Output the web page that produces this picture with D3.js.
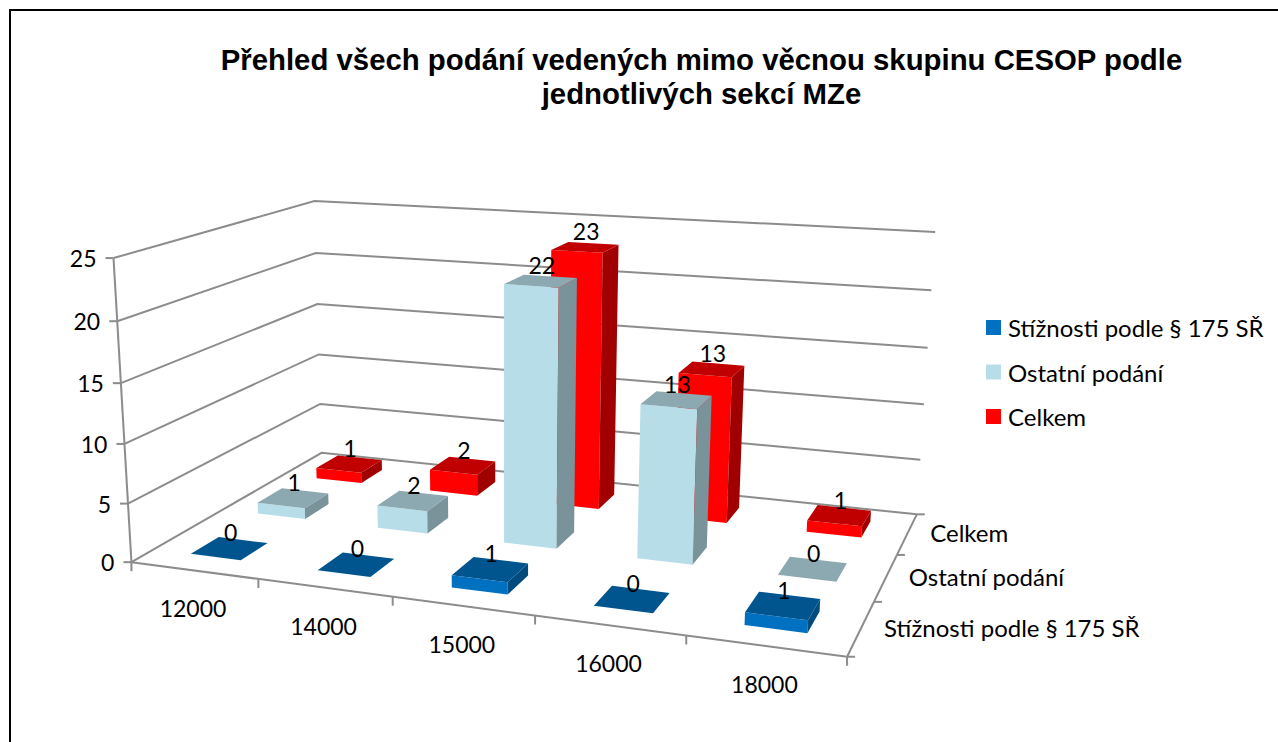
<!DOCTYPE html>
<html>
<head>
<meta charset="utf-8">
<script src="https://cdn.jsdelivr.net/npm/d3@7"></script>
<style>
  html, body { margin: 0; padding: 0; background: #fff; overflow: hidden; }
  text { fill: #000; }
  .lbl { font-family: Lato, "Open Sans", sans-serif; font-size: 23px; }
  .name { font-size: 24px; }
  .title { font-family: "Liberation Sans", Arial, sans-serif; font-size: 29.35px; font-weight: bold; text-anchor: middle; }
</style>
</head>
<body>
<svg id="mainSVG" width="1278" height="742"></svg>
<script>
var titleLines = ["Přehled všech podání vedených mimo věcnou skupinu CESOP podle", "jednotlivých sekcí MZe"];
var categories = ["12000", "14000", "15000", "16000", "18000"];
var seriesNames = ["Stížnosti podle § 175 SŘ", "Ostatní podání", "Celkem"];
var stiznosti = [0, 0, 1, 0, 1];
var ostatni = [1, 2, 22, 13, 0];
var celkem = [1, 2, 23, 13, 1];
var seriesValues = [stiznosti, ostatni, celkem];
var valueTicks = [0, 5, 10, 15, 20, 25];

// front, top, side
var seriesColors = [
  ["#0070C0", "#00558F", "#004B7E"],
  ["#B7DEE8", "#8CA9B1", "#7A9299"],
  ["#FF0000", "#C00000", "#A00000"]
];
var gridColor = "#8C8C8C";

var mainSVG = d3.select("#mainSVG");

// Corners of the 3D box as they land on screen: [u, v, h, x, y]
var anchors = [
  [0, 0, 0, 132, 562],
  [1, 0, 0, 847, 657],
  [1, 1, 0, 917, 514],
  [0, 1, 0, 321, 453],
  [0, 0, 1, 113, 258],
  [0, 1, 1, 315, 201],
  [1, 1, 1, 935, 232]
];

// Least squares fit of the perspective projection (11 unknowns)
function fitProjection(pts) {
  var rows = [];
  pts.forEach(function (p) {
    var u = p[0], v = p[1], h = p[2], x = p[3] / 1000, y = p[4] / 1000;
    rows.push([u, v, h, 1, 0, 0, 0, 0, -x * u, -x * v, -x * h, x]);
    rows.push([0, 0, 0, 0, u, v, h, 1, -y * u, -y * v, -y * h, y]);
  });
  var n = 11;
  var m = d3.range(n).map(function (i) {
    return d3.range(n + 1).map(function (j) {
      return d3.sum(rows, function (r) { return r[i] * r[j]; });
    });
  });
  for (var c = 0; c < n; c++) {
    var best = c;
    for (var r = c + 1; r < n; r++) {
      if (Math.abs(m[r][c]) > Math.abs(m[best][c])) best = r;
    }
    var tmp = m[c]; m[c] = m[best]; m[best] = tmp;
    for (var k = 0; k < n; k++) {
      if (k == c) continue;
      var f = m[k][c] / m[c][c];
      for (var j = c; j <= n; j++) m[k][j] -= f * m[c][j];
    }
  }
  return d3.range(n).map(function (i) { return m[i][n] / m[i][i]; });
}

var P = fitProjection(anchors);

function project(u, v, h) {
  var w = P[8] * u + P[9] * v + P[10] * h + 1;
  return [
    1000 * (P[0] * u + P[1] * v + P[2] * h + P[3]) / w,
    1000 * (P[4] * u + P[5] * v + P[6] * h + P[7]) / w
  ];
}

// Scales: unit box coordinates
var xScale = d3.scaleBand().domain(categories).range([0, 1]).paddingInner(0.6).paddingOuter(0.3);
var zScale = d3.scaleBand().domain(seriesNames).range([0, 1]).paddingInner(0.6).paddingOuter(0.3);
var yScale = d3.scaleLinear().domain([0, 25]).range([0, 1]);

var path = d3.line();

// Frame
mainSVG.append("rect")
  .attr("x", 10).attr("y", 10)
  .attr("width", 1400).attr("height", 900)
  .attr("fill", "none").attr("stroke", "#000").attr("stroke-width", 2);

// Title
mainSVG.selectAll(".title")
  .data(titleLines)
  .enter().append("text")
  .attr("class", "title")
  .attr("x", 701.5)
  .attr("y", function (d, i) { return 70 + i * 34; })
  .text(function (d) { return d; });

// Walls: gridlines run along the left wall and then along the back wall
mainSVG.selectAll(".grid")
  .data(valueTicks)
  .enter().append("path")
  .attr("class", "grid")
  .attr("d", function (d) {
    var h = yScale(d);
    return path([project(0, 0, h), project(0, 1, h), project(1, 1, h)]);
  })
  .attr("fill", "none").attr("stroke", gridColor).attr("stroke-width", 2);

// Axis lines
var axisLines = [
  [project(0, 0, 0), project(0, 0, 1)],
  [project(0, 0, 0), project(1, 0, 0)],
  [project(1, 0, 0), project(1, 1, 0)]
];

// Ticks
valueTicks.forEach(function (d) {
  var a = project(0, 0, yScale(d));
  axisLines.push([a, [a[0] - 8, a[1]]]);
});
d3.range(categories.length + 1).forEach(function (i) {
  var a = project(i / categories.length, 0, 0);
  axisLines.push([a, [a[0], a[1] + 9]]);
});
d3.range(seriesNames.length + 1).forEach(function (i) {
  var a = project(1, i / seriesNames.length, 0);
  axisLines.push([a, [a[0] + 8, a[1]]]);
});

mainSVG.selectAll(".axisLine")
  .data(axisLines)
  .enter().append("path")
  .attr("class", "axisLine")
  .attr("d", path)
  .attr("fill", "none").attr("stroke", gridColor).attr("stroke-width", 2);

// Axis labels
mainSVG.selectAll(".valueLabel")
  .data(valueTicks)
  .enter().append("text")
  .attr("class", "lbl valueLabel")
  .attr("x", function (d) { return project(0, 0, yScale(d))[0] - 17; })
  .attr("y", function (d) { return project(0, 0, yScale(d))[1] + 1; })
  .attr("dy", "0.35em")
  .attr("text-anchor", "end")
  .text(function (d) { return d; });

mainSVG.selectAll(".catLabel")
  .data(categories)
  .enter().append("text")
  .attr("class", "lbl catLabel")
  .attr("x", function (d) { return project(xScale(d) + xScale.bandwidth() / 2, 0, 0)[0] - 1; })
  .attr("y", function (d) { return project(xScale(d) + xScale.bandwidth() / 2, 0, 0)[1] + 39; })
  .attr("dy", "0.35em")
  .attr("text-anchor", "middle")
  .text(function (d) { return d; });

mainSVG.selectAll(".seriesLabel")
  .data(seriesNames)
  .enter().append("text")
  .attr("class", "lbl name seriesLabel")
  .attr("x", function (d) { return project(1, zScale(d) + zScale.bandwidth() / 2, 0)[0] + 23; })
  .attr("y", function (d) { return project(1, zScale(d) + zScale.bandwidth() / 2, 0)[1]; })
  .attr("dy", "0.35em")
  .text(function (d) { return d; });

// Bars, painted from the back row to the front row
var bars = [];
d3.range(seriesNames.length - 1, -1, -1).forEach(function (s) {
  categories.forEach(function (cat, i) {
    bars.push({ s: s, cat: cat, value: seriesValues[s][i] });
  });
});

function faces(d) {
  var u0 = xScale(d.cat), u1 = u0 + xScale.bandwidth();
  var v0 = zScale(seriesNames[d.s]), v1 = v0 + zScale.bandwidth();
  var h = yScale(d.value);
  var list = [];
  if (d.value > 0) {
    list.push({ c: 0, pts: [project(u0, v0, 0), project(u1, v0, 0), project(u1, v0, h), project(u0, v0, h)] });
    list.push({ c: 2, pts: [project(u1, v0, 0), project(u1, v1, 0), project(u1, v1, h), project(u1, v0, h)] });
  }
  list.push({ c: 1, pts: [project(u0, v0, h), project(u1, v0, h), project(u1, v1, h), project(u0, v1, h)] });
  return list;
}

var barGroups = mainSVG.selectAll(".bar")
  .data(bars)
  .enter().append("g")
  .attr("class", "bar");

barGroups.selectAll("path")
  .data(function (d) {
    return faces(d).map(function (f) { return { s: d.s, c: f.c, pts: f.pts }; });
  })
  .enter().append("path")
  .attr("d", function (d) { return path(d.pts) + "Z"; })
  .attr("fill", function (d) { return seriesColors[d.s][d.c]; });

// Data labels
mainSVG.selectAll(".dataLabel")
  .data(bars)
  .enter().append("text")
  .attr("class", "lbl dataLabel")
  .attr("x", function (d) { return project(xScale(d.cat) + xScale.bandwidth() / 2, zScale(seriesNames[d.s]) + zScale.bandwidth() / 2, yScale(d.value))[0] + 1; })
  .attr("y", function (d) { return project(xScale(d.cat) + xScale.bandwidth() / 2, zScale(seriesNames[d.s]) + zScale.bandwidth() / 2, yScale(d.value))[1] - 15; })
  .attr("dy", "0.35em")
  .attr("text-anchor", "middle")
  .text(function (d) { return d.value; });

// Legend
var legend = mainSVG.selectAll(".legend")
  .data(seriesNames)
  .enter().append("g")
  .attr("class", "legend")
  .attr("transform", function (d, i) { return "translate(986," + (320 + i * 44.5) + ")"; });

legend.append("rect")
  .attr("width", 15).attr("height", 15)
  .attr("fill", function (d, i) { return seriesColors[i][0]; });

legend.append("text")
  .attr("class", "lbl name")
  .attr("x", 22)
  .attr("y", 9)
  .attr("dy", "0.35em")
  .text(function (d) { return d; });
</script>
</body>
</html>
